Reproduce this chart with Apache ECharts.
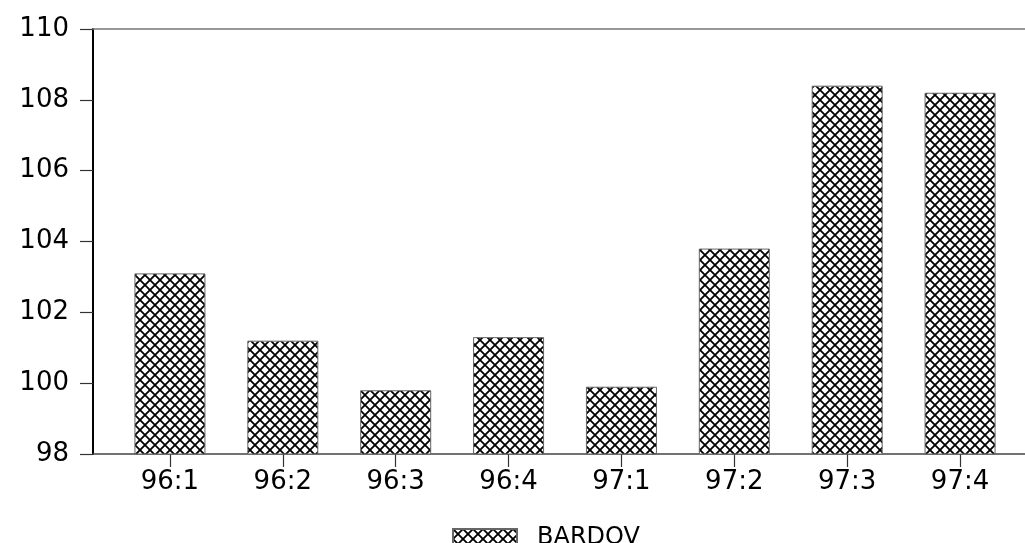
<!DOCTYPE html>
<html>
<head>
<meta charset="utf-8">
<script src="https://cdn.jsdelivr.net/npm/echarts@6/dist/echarts.min.js"></script>
<style>html,body{margin:0;padding:0;background:#fff}#c{width:1025px;height:543px}</style>
</head>
<body>
<div id="c"></div>
<script>
var categories = ['96:1','96:2','96:3','96:4','97:1','97:2','97:3','97:4'];
var bardov = [103.1, 101.2, 99.8, 101.3, 99.9, 103.8, 108.4, 108.2];
var seriesName = 'BARDOV';

function makePattern() {
  var t = 10;
  var c = document.createElement('canvas');
  c.width = t; c.height = t;
  var ctx = c.getContext('2d');
  ctx.fillStyle = '#fff';
  ctx.fillRect(0, 0, t, t);
  ctx.strokeStyle = '#000';
  ctx.lineWidth = 1.8;
  for (var k = -1; k <= 1; k++) {
    ctx.beginPath();
    ctx.moveTo(k * t - 1, -1); ctx.lineTo(k * t + t + 1, t + 1);
    ctx.moveTo(k * t - 1, t + 1); ctx.lineTo(k * t + t + 1, -1);
    ctx.stroke();
  }
  return c;
}
var pattern = { image: makePattern(), repeat: 'repeat' };
var font = 'DejaVu Sans';
var fs = 26;

var chart = echarts.init(document.getElementById('c'), null, { renderer: 'canvas' });
chart.setOption({
  animation: false,
  backgroundColor: '#fff',
  grid: [
    { left: 93, right: 0, top: 29, bottom: 89 },
    { left: 113.5, right: 8.5, top: 29, bottom: 89 }
  ],
  xAxis: [
    { type: 'value', gridIndex: 0, position: 'bottom', min: 0, max: 1,
      axisLine: { show: true, lineStyle: { color: '#444', width: 1.5 } },
      axisTick: { show: false }, axisLabel: { show: false }, splitLine: { show: false } },
    { type: 'value', gridIndex: 0, position: 'top', min: 0, max: 1,
      axisLine: { show: true, lineStyle: { color: '#777', width: 1.5 } },
      axisTick: { show: false }, axisLabel: { show: false }, splitLine: { show: false } },
    { type: 'category', gridIndex: 1, data: categories, boundaryGap: true,
      axisLine: { show: false },
      axisTick: { show: true, alignWithLabel: true, length: 13, lineStyle: { color: '#333', width: 1.2 } },
      axisLabel: { margin: 15, color: '#000', fontSize: fs, fontFamily: font },
      splitLine: { show: false } }
  ],
  yAxis: [
    { type: 'value', gridIndex: 0, min: 98, max: 110, interval: 2,
      axisLine: { show: true, lineStyle: { color: '#000', width: 2 } },
      axisTick: { show: true, inside: false, length: 13, lineStyle: { color: '#333', width: 1.2 } },
      axisLabel: { margin: 24, color: '#000', fontSize: fs, fontFamily: font },
      splitLine: { show: false } },
    { type: 'value', gridIndex: 1, min: 98, max: 110, interval: 2, show: false,
      splitLine: { show: false } }
  ],
  legend: {
    left: 447, top: 521,
    itemWidth: 64, itemHeight: 18, icon: 'rect',
    textStyle: { fontSize: fs - 2, fontFamily: font, color: '#000', padding: [0, 0, 0, 15] },
    data: [seriesName]
  },
  series: [{
    name: seriesName,
    type: 'bar',
    xAxisIndex: 2, yAxisIndex: 1,
    data: bardov,
    barWidth: 71,
    itemStyle: { color: pattern, borderColor: '#666', borderWidth: 1 }
  }]
});
</script>
</body>
</html>
